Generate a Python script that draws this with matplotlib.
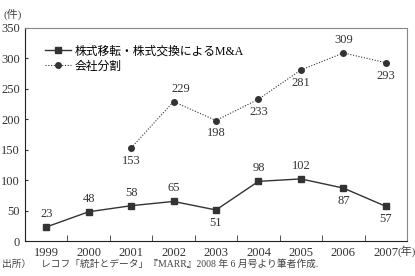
import matplotlib
matplotlib.use('Agg')
import matplotlib.pyplot as plt
from matplotlib.ticker import MultipleLocator

plt.rcParams['font.family'] = ['Liberation Serif', 'Noto Sans CJK JP']

years = [1999, 2000, 2001, 2002, 2003, 2004, 2005, 2006, 2007]
ma_counts = [23, 48, 58, 65, 51, 98, 102, 87, 57]
split_years = [2001, 2002, 2003, 2004, 2005, 2006, 2007]
split_counts = [153, 229, 198, 233, 281, 309, 293]

# label above (1) or below (-1)
ma_pos = [1, 1, 1, 1, -1, 1, 1, -1, -1]
split_pos = [-1, 1, -1, -1, -1, 1, -1]

fig = plt.figure(figsize=(4.15, 2.76), dpi=100)
ax = fig.add_axes([25 / 415, 35 / 276, 382 / 415, 213 / 276])

ax.plot(years, ma_counts, color='#333333', lw=1.0, marker='s', ms=5,
        label='株式移転・株式交換によるM&A')
ax.plot(split_years, split_counts, color='#333333', lw=0.8, ls=(0, (1, 1.5)),
        marker='o', ms=4, label='会社分割')

for x, y, p in zip(years, ma_counts, ma_pos):
    ax.annotate(str(y), (x, y), xytext=(0, 5 * p), textcoords='offset points',
                ha='center', va='bottom' if p > 0 else 'top', fontsize=9, color='#333333')
for x, y, p in zip(split_years, split_counts, split_pos):
    dx = 5 if x == 2002 else 0
    ax.annotate(str(y), (x, y), xytext=(dx, 5 * p), textcoords='offset points',
                ha='center', va='bottom' if p > 0 else 'top', fontsize=9, color='#333333')

ax.set_xlim(1998.5, 2007.5)
ax.set_ylim(0, 350)
ax.yaxis.set_major_locator(MultipleLocator(50))
ax.set_xticks(years)
ax.set_xticklabels([str(y) for y in years])
ax.set_xticks([y + 0.5 for y in years[:-1]], minor=True)
ax.tick_params(axis='x', which='major', length=0, labelsize=9, colors='#333333', pad=4)
ax.tick_params(axis='x', which='minor', direction='in', length=4, color='#333333')
ax.tick_params(axis='y', direction='in', length=2, labelsize=9, colors='#333333')

ax.spines['left'].set_color('#222222')
ax.spines['bottom'].set_color('#222222')
ax.spines['top'].set_color('#888888')
ax.spines['right'].set_color('#888888')

ax.legend(loc='upper left', bbox_to_anchor=(0.04, 0.94), frameon=False, fontsize=8.5,
          handlelength=2.2, handletextpad=0.3, labelspacing=0.25, borderaxespad=0)

fig.text(3 / 415, 262 / 276, '(件)', fontsize=8, color='#444444', va='center', ha='left')
fig.text(397 / 415, 25 / 276, '(年)', fontsize=8, color='#444444', va='center', ha='left')
fig.text(2 / 415, 12 / 276, '出所）　レコフ「統計とデータ」『MARR』2008 年 6 月号より筆者作成.',
         fontsize=7, color='#444444', va='center', ha='left')

fig.savefig('out.png', dpi=100)
